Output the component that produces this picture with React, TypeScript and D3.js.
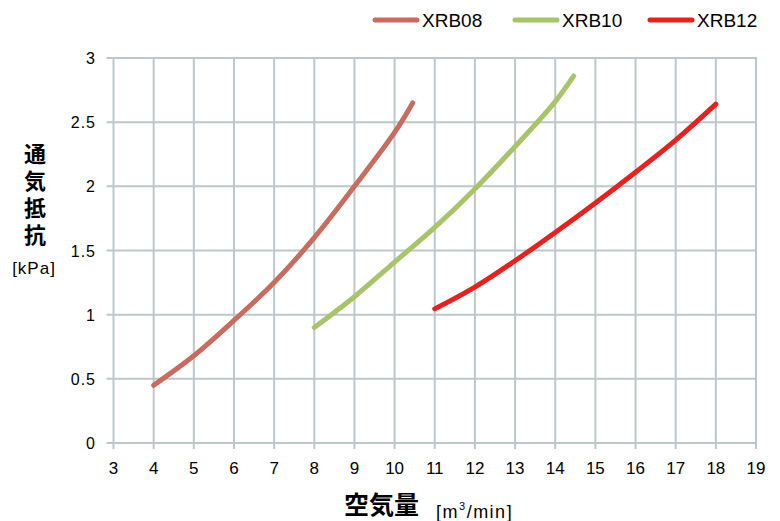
import React, { useEffect, useRef } from 'react';
import * as d3 from 'd3';

// 空気量 [m3/min] vs 通気抵抗 [kPa]
const xrb08Flow = [4, 5, 6, 7, 8, 9, 10, 10.45];
const xrb08Pressure = [0.45, 0.68, 0.955, 1.25, 1.6, 2.0, 2.42, 2.65];

const xrb10Flow = [8, 9, 10, 11, 12, 13, 14, 14.46];
const xrb10Pressure = [0.9, 1.14, 1.41, 1.68, 1.98, 2.31, 2.66, 2.86];

const xrb12Flow = [11, 12, 13, 14, 15, 16, 17, 18];
const xrb12Pressure = [1.045, 1.215, 1.42, 1.64, 1.87, 2.11, 2.36, 2.64];

const seriesNames = ['XRB08', 'XRB10', 'XRB12'];
const seriesColors = ['#c76c5f', '#a8c46a', '#e42320'];

const xTicks = d3.range(3, 20);
const yTicks = [0, 0.5, 1, 1.5, 2, 2.5, 3];

const GRID = '#bdc7cb';
const FONT = '"Liberation Sans", Arial, sans-serif';
const JP_FONT = '"Noto Sans CJK JP", sans-serif';

const App: React.FC = () => {
  const svgRef = useRef<SVGSVGElement>(null);

  useEffect(() => {
    if (!svgRef.current) return;
    const svg = d3.select(svgRef.current);
    svg.selectAll('*').remove();

    const x = d3.scaleLinear().domain([3, 19]).range([113.5, 756]);
    const y = d3.scaleLinear().domain([0, 3]).range([443, 58]);

    const grid = svg.append('g');

    // vertical grid + ticks below axis
    xTicks.forEach((t) => {
      grid.append('line')
        .attr('x1', x(t)).attr('x2', x(t))
        .attr('y1', y(3)).attr('y2', y(0) + 6)
        .attr('stroke', GRID).attr('stroke-width', 2);
    });

    // horizontal grid + ticks left of axis
    yTicks.forEach((t) => {
      grid.append('line')
        .attr('x1', x(3) - 7).attr('x2', x(19) + 1)
        .attr('y1', y(t)).attr('y2', y(t))
        .attr('stroke', GRID).attr('stroke-width', 2);
    });

    // tick labels
    svg.append('g').selectAll('text')
      .data(xTicks)
      .join('text')
      .attr('x', (d) => x(d))
      .attr('y', 474)
      .attr('text-anchor', 'middle')
      .style('font-family', FONT)
      .style('font-size', '17px')
      .text((d) => d);

    svg.append('g').selectAll('text')
      .data(yTicks)
      .join('text')
      .attr('x', 96)
      .attr('y', (d) => y(d) + 6)
      .attr('text-anchor', 'end')
      .style('font-family', FONT)
      .style('font-size', '16px')
      .style('letter-spacing', '1px')
      .text((d) => d);

    // curves
    const series = [
      { flow: xrb08Flow, pressure: xrb08Pressure },
      { flow: xrb10Flow, pressure: xrb10Pressure },
      { flow: xrb12Flow, pressure: xrb12Pressure },
    ];

    const line = d3.line<[number, number]>()
      .x((d) => x(d[0]))
      .y((d) => y(d[1]))
      .curve(d3.curveCatmullRom.alpha(0.5));

    series.forEach((s, i) => {
      const pts = s.flow.map((f, j) => [f, s.pressure[j]] as [number, number]);
      svg.append('path')
        .attr('d', line(pts))
        .attr('fill', 'none')
        .attr('stroke', seriesColors[i])
        .attr('stroke-width', 5)
        .attr('stroke-linecap', 'round')
        .attr('stroke-linejoin', 'round');
    });

    // legend
    const legendX = [375, 515, 650];
    seriesNames.forEach((name, i) => {
      const lx = legendX[i];
      svg.append('line')
        .attr('x1', lx).attr('x2', lx + 42)
        .attr('y1', 20).attr('y2', 20)
        .attr('stroke', seriesColors[i])
        .attr('stroke-width', 5)
        .attr('stroke-linecap', 'round');
      svg.append('text')
        .attr('x', lx + 47)
        .attr('y', 27)
        .style('font-family', FONT)
        .style('font-size', '19px')
        .text(name);
    });

    // y axis title, stacked vertically
    svg.append('text')
      .attr('x', 35)
      .attr('y', 143)
      .style('writing-mode', 'vertical-rl')
      .style('font-family', JP_FONT)
      .style('font-weight', 'bold')
      .style('font-size', '22px')
      .style('letter-spacing', '5px')
      .text('通気抵抗');
    svg.append('text')
      .attr('x', 34)
      .attr('y', 274)
      .attr('text-anchor', 'middle')
      .style('font-family', FONT)
      .style('font-size', '17px')
      .style('letter-spacing', '1px')
      .text('[kPa]');

    // x axis title
    svg.append('text')
      .attr('x', 344)
      .attr('y', 514)
      .style('font-family', JP_FONT)
      .style('font-size', '25px')
      .style('font-weight', 'bold')
      .text('空気量');
    const unit = svg.append('text')
      .attr('x', 436)
      .attr('y', 518)
      .style('font-family', FONT)
      .style('font-size', '18px')
      .style('letter-spacing', '1.5px');
    unit.append('tspan').text('[m');
    unit.append('tspan')
      .attr('dy', -8)
      .style('font-size', '11px')
      .text('3');
    unit.append('tspan')
      .attr('dy', 8)
      .text('/min]');
  }, []);

  return (
    <svg
      ref={svgRef}
      width={780}
      height={521}
      style={{ position: 'fixed', top: 0, left: 0, display: 'block', background: '#fff' }}
    />
  );
};

export default App;
